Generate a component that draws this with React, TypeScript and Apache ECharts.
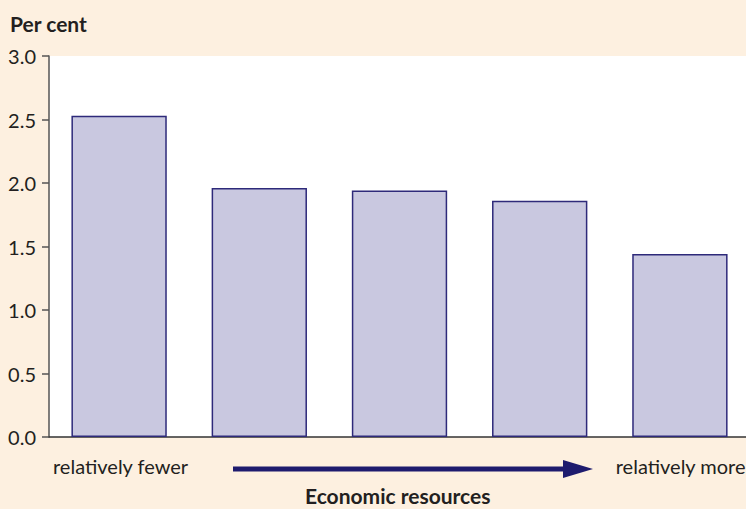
import React, { useEffect, useRef } from "react";
import * as echarts from "echarts";

const categories = ["Q1", "Q2", "Q3", "Q4", "Q5"];
const values = [2.53, 1.96, 1.94, 1.86, 1.44];
const yTicks = { min: 0, max: 3, interval: 0.5 };

const FONT = "Lato, 'Noto Sans', sans-serif";
const INK = "#231f20";

export default function App() {
  const ref = useRef<HTMLDivElement>(null);
  useEffect(() => {
    document.body.style.margin = "0";
    const chart = echarts.init(ref.current!, undefined, { renderer: "svg" });
    chart.setOption({
      animation: false,
      backgroundColor: "#fdf0e0",
      grid: {
        left: 49,
        right: 0,
        top: 56,
        bottom: 72,
        show: true,
        backgroundColor: "#ffffff",
        borderWidth: 0,
      },
      xAxis: {
        type: "category",
        data: categories,
        axisLine: { show: true, lineStyle: { color: "#333", width: 1.5 } },
        axisTick: { show: false },
        axisLabel: { show: false },
      },
      yAxis: {
        type: "value",
        min: yTicks.min,
        max: yTicks.max,
        interval: yTicks.interval,
        axisLine: { show: true, lineStyle: { color: "#555", width: 1.5 } },
        axisTick: { show: true, length: 7, lineStyle: { color: "#555", width: 1.5 } },
        splitLine: { show: false },
        axisLabel: {
          color: INK,
          fontFamily: FONT,
          fontSize: 20,
          margin: 13,
          formatter: (v: number) => v.toFixed(1),
        },
      },
      series: [
        {
          type: "bar",
          data: values,
          barWidth: "68%",
          itemStyle: { color: "#c9c8e0", borderColor: "#2e2a7a", borderWidth: 1.5 },
        },
      ],
      graphic: [
        {
          type: "text",
          left: 10,
          top: 13,
          style: { text: "Per cent", fontFamily: FONT, fontWeight: "bold", fontSize: 21, fill: INK },
        },
        {
          type: "text",
          left: 53,
          top: 456,
          style: { text: "relatively fewer", fontFamily: FONT, fontSize: 20, fill: INK },
        },
        {
          type: "text",
          right: 4,
          top: 456,
          style: { text: "relatively more", fontFamily: FONT, fontSize: 20, fill: INK },
        },
        {
          type: "line",
          shape: { x1: 233, y1: 469, x2: 566, y2: 469 },
          style: { stroke: "#1e1b6e", lineWidth: 5 },
        },
        {
          type: "polygon",
          shape: { points: [[563, 460], [593, 469], [563, 478]] },
          style: { fill: "#1e1b6e" },
        },
        {
          type: "text",
          left: 305,
          top: 485,
          style: { text: "Economic resources", fontFamily: FONT, fontWeight: "bold", fontSize: 21, fill: INK },
        },
      ],
    });
    return () => chart.dispose();
  }, []);
  return (
    <div style={{ width: 746, height: 509, overflow: "hidden" }}>
      <div ref={ref} style={{ width: 750, height: 509 }} />
    </div>
  );
}
